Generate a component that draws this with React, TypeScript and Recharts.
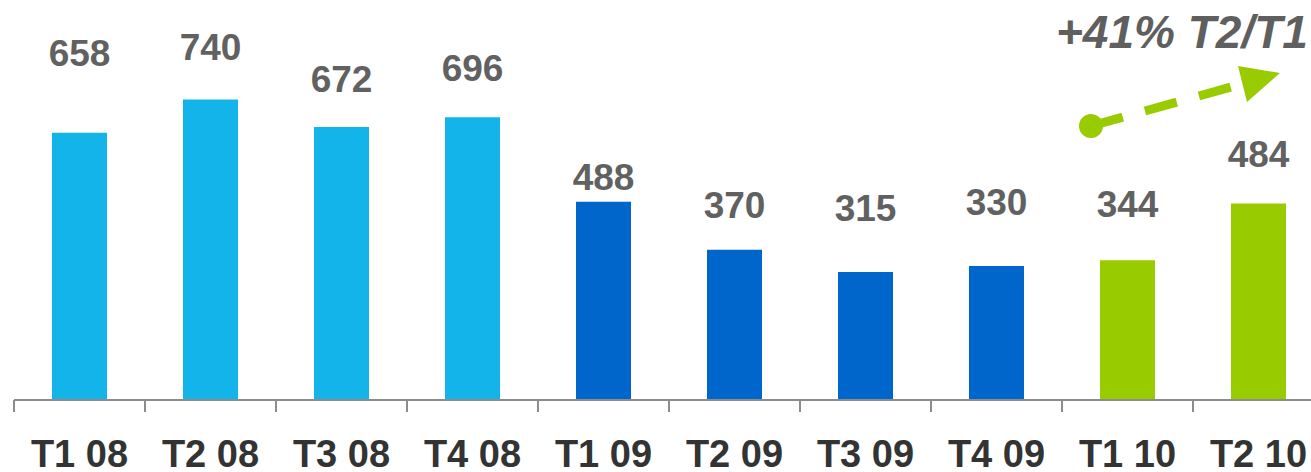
import React from "react";
import { ComposedChart, Bar, Line, XAxis, YAxis, Cell, LabelList } from "recharts";

const categories = ["T1 08", "T2 08", "T3 08", "T4 08", "T1 09", "T2 09", "T3 09", "T4 09", "T1 10", "T2 10"];
const values = [658, 740, 672, 696, 488, 370, 315, 330, 344, 484];
const labelLevels = [822, 837, 758, 785, 517, 448, 441, 455, 450, 574];
const groups = ["2008", "2008", "2008", "2008", "2009", "2009", "2009", "2009", "2010", "2010"];
const growthLabel = "+41% T2/T1";

const groupColors: Record<string, string> = { "2008": "#13b4e9", "2009": "#0066cc", "2010": "#99cc00" };

const data = categories.map((c, i) => ({ name: c, value: values[i], labelAt: labelLevels[i], group: groups[i] }));

const W = 1340;
const H = 472;
const M = { top: 10, right: 16, left: 14, bottom: 0 };
const BAND = (W - M.left - M.right) / categories.length;
const FONT = "'Liberation Sans', Arial, Helvetica, sans-serif";

const Tick = (props: any) => {
  const { x, y, payload } = props;
  return (
    <g>
      <line x1={x - BAND / 2} x2={x - BAND / 2} y1={y - 8} y2={y + 4} stroke="#8c8c8c" strokeWidth={2} />
      <text x={x} y={y + 59} textAnchor="middle" fontFamily={FONT} fontWeight="bold" fontSize={38} fill="#333333">
        {payload.value}
      </text>
    </g>
  );
};

const ValueLabel = (props: any) => {
  const { x, y, value } = props;
  return (
    <text x={x} y={y} textAnchor="middle" fontFamily={FONT} fontWeight="bold" fontSize={37} fill="#616161">
      {value}
    </text>
  );
};

export default function App() {
  return (
    <div style={{ position: "fixed", left: 0, top: 0, width: 1311, height: 472, overflow: "hidden", background: "#fff" }}>
      <ComposedChart width={W} height={H} data={data} margin={M} barCategoryGap={0}>
        <XAxis
          dataKey="name"
          height={72}
          axisLine={{ stroke: "#8c8c8c", strokeWidth: 2 }}
          tickLine={false}
          tick={<Tick />}
          interval={0}
        />
        <YAxis hide domain={[0, 960]} />
        <Bar dataKey="value" barSize={55} isAnimationActive={false}>
          {data.map((d, i) => (
            <Cell key={i} fill={groupColors[d.group]} />
          ))}
        </Bar>
        <Line dataKey="labelAt" stroke="none" dot={false} activeDot={false} isAnimationActive={false}>
          <LabelList dataKey="value" content={<ValueLabel />} />
        </Line>
      </ComposedChart>
      <svg width={1311} height={472} style={{ position: "absolute", left: 0, top: 0, pointerEvents: "none" }}>
        <text x={1056} y={48} fontFamily={FONT} fontWeight="bold" fontStyle="italic" fontSize={46} fill="#5f5f5f">
          {growthLabel}
        </text>
        <line x1={1091} y1={126} x2={1242} y2={84} stroke="#99cc00" strokeWidth={9} strokeDasharray="33 23" />
        <circle cx={1091} cy={126} r={12} fill="#99cc00" />
        <polygon points="1280,73 1238,66 1247,102" fill="#99cc00" />
      </svg>
    </div>
  );
}
